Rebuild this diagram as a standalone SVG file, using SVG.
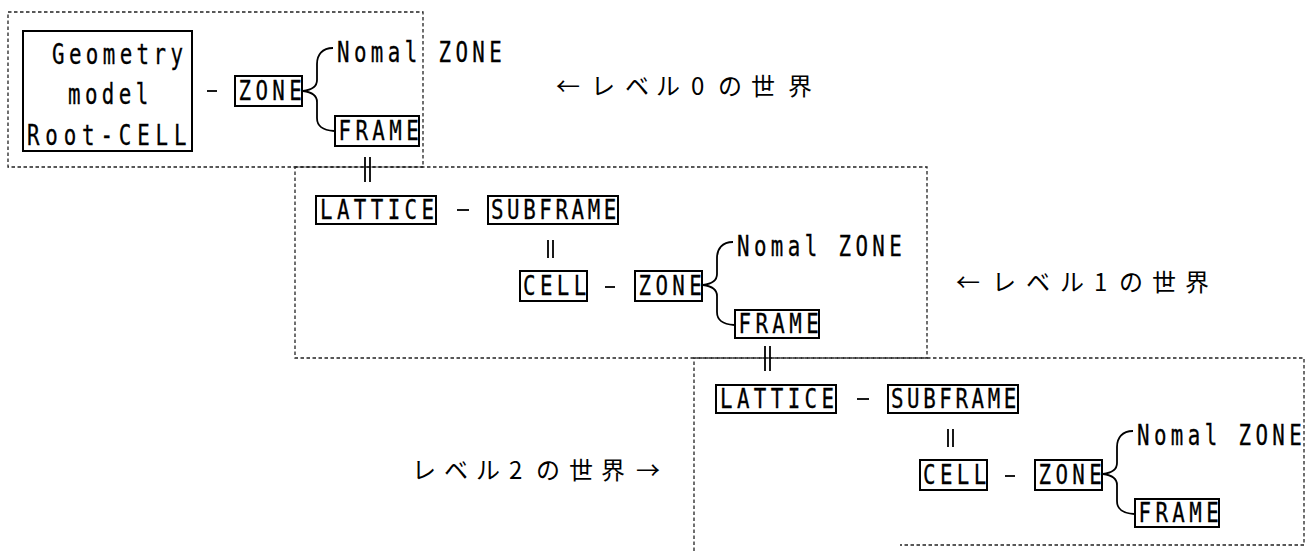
<svg xmlns="http://www.w3.org/2000/svg" width="1311" height="551" viewBox="0 0 1311 551">
<style>
.dot{fill:none;stroke:#222;stroke-width:1.3;stroke-dasharray:3.5 2.5}
.box{fill:none;stroke:#000;stroke-width:2}
.ln{fill:none;stroke:#000;stroke-width:1.8}
.m{font-family:"DejaVu Sans Mono","Liberation Mono",monospace;font-size:26px;letter-spacing:5.5px;fill:#000;stroke:#000;stroke-width:0.3}
.j{font-family:"Noto Sans CJK JP","Noto Sans CJK SC",sans-serif;font-size:24px;fill:#000}
</style>
<rect width="1311" height="551" fill="#fff"/>
<g id="worlds">
<path class="dot" d="M8,12 H423 V167 H8 Z"/>
<path class="dot" d="M295,167 H927 V358 H295 Z"/>
<path class="dot" d="M694,551 V358 H1304 V545 H900"/>
</g>
<g id="connectors">
<line class="ln" x1="207" y1="91" x2="217" y2="91"/>
<path class="ln" d="M333,48 C322,48 317,55 317,64 L317,80 C317,87 311,90 303,91 C311,92 317,95 317,102 L317,118 C317,126 322,130 334,131"/>
<line class="ln" x1="365" y1="157" x2="365" y2="182"/>
<line class="ln" x1="370" y1="157" x2="370" y2="182"/>
<line class="ln" x1="457" y1="210" x2="469" y2="210"/>
<line class="ln" x1="548" y1="240" x2="548" y2="258"/>
<line class="ln" x1="553" y1="240" x2="553" y2="258"/>
<line class="ln" x1="605" y1="287" x2="615" y2="287"/>
<path class="ln" d="M733,242 C722,242 717,249 717,258 L717,274 C717,281 711,284 703,285 C711,286 717,289 717,296 L717,312 C717,320 722,324 734,325"/>
<line class="ln" x1="765" y1="346" x2="765" y2="371"/>
<line class="ln" x1="770" y1="346" x2="770" y2="371"/>
<line class="ln" x1="857" y1="399" x2="869" y2="399"/>
<line class="ln" x1="948" y1="429" x2="948" y2="447"/>
<line class="ln" x1="953" y1="429" x2="953" y2="447"/>
<line class="ln" x1="1005" y1="476" x2="1015" y2="476"/>
<path class="ln" d="M1133,431 C1122,431 1117,438 1117,447 L1117,463 C1117,470 1111,473 1103,474 C1111,475 1117,478 1117,485 L1117,501 C1117,509 1122,513 1134,514"/>
</g>
<g id="geometry-root">
<rect class="box" x="23" y="31" width="169" height="120"/>
<text class="m" transform="translate(52 64) scale(.8 1.1)">Geometry</text>
<text class="m" transform="translate(68 104) scale(.8 1.1)">model</text>
<text class="m" transform="translate(27 145) scale(.8 1.1)" style="letter-spacing:7.3px">Root-CELL</text>
</g>
<g id="zone0">
<rect class="box" x="235" y="76" width="67" height="30"/>
<text class="m" transform="translate(238.5 100) scale(.8 1.05)">ZONE</text>
</g>
<g id="nomal0"><text class="m" transform="translate(337 62) scale(.8 1.1)">Nomal ZONE</text></g>
<g id="frame0">
<rect class="box" x="335" y="116" width="84" height="30"/>
<text class="m" transform="translate(338.5 140) scale(.8 1.05)">FRAME</text>
</g>
<g id="label0"><text class="j" x="556 591 625 656 691 718 751 788" y="95">←レベル0の世界</text></g>
<g id="lattice1">
<rect class="box" x="316" y="196" width="120" height="28"/>
<text class="m" transform="translate(320 219) scale(.8 1.05)">LATTICE</text>
</g>
<g id="subframe1">
<rect class="box" x="488" y="196" width="130" height="28"/>
<text class="m" transform="translate(491 219) scale(.8 1.05)" style="letter-spacing:4.5px">SUBFRAME</text>
</g>
<g id="cell1">
<rect class="box" x="520" y="271" width="67" height="30"/>
<text class="m" transform="translate(523 295) scale(.8 1.05)">CELL</text>
</g>
<g id="zone1">
<rect class="box" x="635" y="271" width="67" height="30"/>
<text class="m" transform="translate(638.5 295) scale(.8 1.05)">ZONE</text>
</g>
<g id="nomal1"><text class="m" transform="translate(737 256) scale(.8 1.1)">Nomal ZONE</text></g>
<g id="frame1">
<rect class="box" x="735" y="310" width="84" height="28"/>
<text class="m" transform="translate(738.5 333) scale(.8 1.05)">FRAME</text>
</g>
<g id="label1"><text class="j" x="956 992 1026 1060 1094 1119 1152 1185" y="291">←レベル1の世界</text></g>
<g id="lattice2">
<rect class="box" x="716" y="385" width="120" height="28"/>
<text class="m" transform="translate(720 408) scale(.8 1.05)">LATTICE</text>
</g>
<g id="subframe2">
<rect class="box" x="888" y="385" width="130" height="28"/>
<text class="m" transform="translate(891 408) scale(.8 1.05)" style="letter-spacing:4.5px">SUBFRAME</text>
</g>
<g id="cell2">
<rect class="box" x="920" y="460" width="67" height="30"/>
<text class="m" transform="translate(923 484) scale(.8 1.05)">CELL</text>
</g>
<g id="zone2">
<rect class="box" x="1035" y="460" width="67" height="30"/>
<text class="m" transform="translate(1038.5 484) scale(.8 1.05)">ZONE</text>
</g>
<g id="nomal2"><text class="m" transform="translate(1137 445) scale(.8 1.1)">Nomal ZONE</text></g>
<g id="frame2">
<rect class="box" x="1135" y="499" width="84" height="28"/>
<text class="m" transform="translate(1138.5 522) scale(.8 1.05)">FRAME</text>
</g>
<g id="label2"><text class="j" x="412 444 476 509 536 569 601 636" y="479">レベル2の世界→</text></g>
</svg>
